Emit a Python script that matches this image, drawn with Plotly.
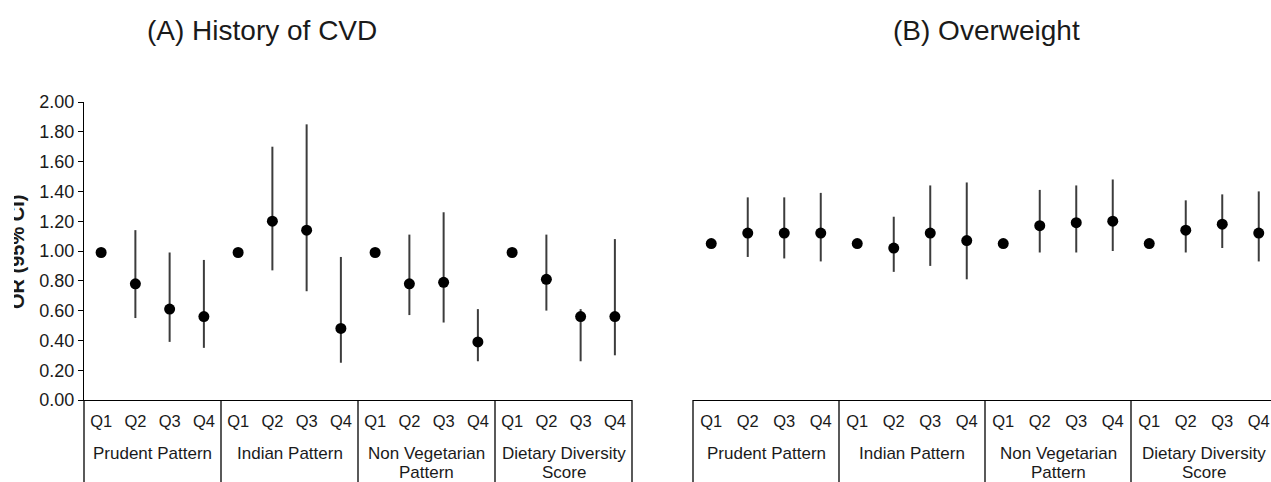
import plotly.graph_objects as go

# ---------------- data ----------------
quartiles = ["Q1", "Q2", "Q3", "Q4"]
patterns = ["Prudent Pattern", "Indian Pattern", "Non Vegetarian<br>Pattern", "Dietary Diversity<br>Score"]

# (A) History of CVD : odds ratio, lower and upper 95% CI (Q1 = reference, no CI)
cvd_or    = [0.99, 0.78, 0.61, 0.56,  0.99, 1.20, 1.14, 0.48,  0.99, 0.78, 0.79, 0.39,  0.99, 0.81, 0.56, 0.56]
cvd_lower = [0.99, 0.55, 0.39, 0.35,  0.99, 0.87, 0.73, 0.25,  0.99, 0.57, 0.52, 0.26,  0.99, 0.60, 0.26, 0.30]
cvd_upper = [0.99, 1.14, 0.99, 0.94,  0.99, 1.70, 1.85, 0.96,  0.99, 1.11, 1.26, 0.61,  0.99, 1.11, 0.61, 1.08]

# (B) Overweight
ow_or    = [1.05, 1.12, 1.12, 1.12,  1.05, 1.02, 1.12, 1.07,  1.05, 1.17, 1.19, 1.20,  1.05, 1.14, 1.18, 1.12]
ow_lower = [1.05, 0.96, 0.95, 0.93,  1.05, 0.86, 0.90, 0.81,  1.05, 0.99, 0.99, 1.00,  1.05, 0.99, 1.02, 0.93]
ow_upper = [1.05, 1.36, 1.36, 1.39,  1.05, 1.23, 1.44, 1.46,  1.05, 1.41, 1.44, 1.48,  1.05, 1.34, 1.38, 1.40]

panel_titles = ["(A) History of CVD", "(B) Overweight"]
y_title = "OR (95% CI)"
y_ticks = [0.0, 0.2, 0.4, 0.6, 0.8, 1.0, 1.2, 1.4, 1.6, 1.8, 2.0]

# ---------------- layout geometry ----------------
W, H = 1271, 482
FONT = "Liberation Sans, Arial, sans-serif"
TXT = "#1a1a1a"

def fx(px):
    return px / W

def fy(py):
    return 1 - py / H

positions = list(range(len(quartiles) * len(patterns)))
ticktext = quartiles * len(patterns)
group_bounds = [-0.5 + 4 * k for k in range(len(patterns) + 1)]
group_centers = [1.5 + 4 * k for k in range(len(patterns))]

left_dom = [fx(84), fx(632)]
right_dom = [fx(693), 1.0]
left_range = [-0.5, 15.5]
right_range = [-0.5, -0.5 + (W - 693) / 36.5]
y_dom = [fy(400), fy(102)]

fig = go.Figure()


def add_panel(vals, lo, hi, xa, ya):
    plus = [h - v for h, v in zip(hi, vals)]
    minus = [v - l for v, l in zip(vals, lo)]
    fig.add_trace(go.Scatter(
        x=positions, y=vals, xaxis=xa, yaxis=ya, mode="markers",
        marker=dict(color="black", size=11, symbol="circle"),
        error_y=dict(type="data", symmetric=False, array=plus, arrayminus=minus,
                     width=0, thickness=2, color="#3c3c3c"),
        showlegend=False, hoverinfo="x+y",
    ))


add_panel(cvd_or, cvd_lower, cvd_upper, "x", "y")
add_panel(ow_or, ow_lower, ow_upper, "x2", "y2")

xaxis_common = dict(
    tickmode="array", tickvals=positions, ticktext=ticktext,
    showline=True, linecolor="black", linewidth=1.3, ticks="",
    showgrid=False, zeroline=False, fixedrange=True, automargin=False,
    tickfont=dict(family=FONT, size=16.5, color=TXT), ticklabelstandoff=6,
)

fig.update_layout(
    template="none",
    width=W, height=H,
    margin=dict(l=0, r=0, t=0, b=0, pad=0, autoexpand=False),
    paper_bgcolor="white", plot_bgcolor="white",
    xaxis=dict(domain=left_dom, range=left_range, anchor="y", **xaxis_common),
    xaxis2=dict(domain=right_dom, range=right_range, anchor="y2", **xaxis_common),
    yaxis=dict(domain=y_dom, range=[0, 2], anchor="x", tickmode="array",
               tickvals=y_ticks, tickformat=".2f", showline=True, linecolor="black",
               linewidth=1.3, ticks="outside", ticklen=5, tickcolor="black",
               showgrid=False, zeroline=False, fixedrange=True, automargin=False,
               tickfont=dict(family=FONT, size=18, color=TXT)),
    yaxis2=dict(domain=y_dom, range=[0, 2], anchor="x2", visible=False,
                fixedrange=True, automargin=False),
)

# table lines below the axes (group separators)
shapes = []
for xref, rng in (("x domain", left_range), ("x2 domain", right_range)):
    for b in group_bounds:
        f = (b - rng[0]) / (rng[1] - rng[0])
        if f > 1.001:
            continue
        shapes.append(dict(type="line", xref=xref, yref="paper", x0=f, x1=f,
                           y0=0, y1=y_dom[0], line=dict(color="black", width=1.3)))
fig.update_layout(shapes=shapes)

annotations = []
line_y = [453, 472]
for xref in ("x", "x2"):
    for c, name in zip(group_centers, patterns):
        for i, part in enumerate(name.split("<br>")):
            annotations.append(dict(x=c, xref=xref, y=fy(line_y[i]), yref="paper",
                                    yanchor="middle", xanchor="center", text=part,
                                    showarrow=False, align="center", borderpad=0,
                                    font=dict(family=FONT, size=17, color=TXT)))

annotations.append(dict(x=fx(262), y=fy(31), xref="paper", yref="paper",
                        xanchor="center", yanchor="middle",
                        text=panel_titles[0], showarrow=False,
                        font=dict(family=FONT, size=28, color=TXT)))
annotations.append(dict(x=fx(986), y=fy(31), xref="paper", yref="paper",
                        xanchor="center", yanchor="middle",
                        text=panel_titles[1], showarrow=False,
                        font=dict(family=FONT, size=28, color=TXT)))

# y axis title (partially cropped at the left edge, as in the source figure)
annotations.append(dict(x=fx(30), y=fy(252), xref="paper", yref="paper",
                        xanchor="right", yanchor="middle", textangle=-90,
                        text="<b>" + y_title + "</b>", showarrow=False,
                        font=dict(family=FONT, size=20, color=TXT)))
annotations.append(dict(x=0, y=fy(252), xref="paper", yref="paper",
                        xanchor="left", yanchor="middle", text=" ",
                        width=14, height=170, bgcolor="white", showarrow=False,
                        borderpad=0, borderwidth=0))
fig.update_layout(annotations=annotations)

fig.write_html("out.html", config={"displayModeBar": False},
               post_script="document.body.style.margin='0px';document.body.style.overflow='hidden';")
